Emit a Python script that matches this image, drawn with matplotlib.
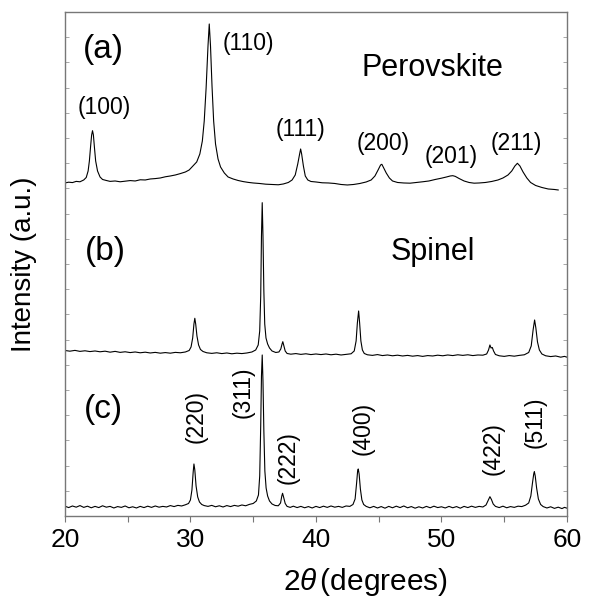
import numpy as np
import matplotlib
matplotlib.use("Agg")
import matplotlib.pyplot as plt

plt.rcParams['font.family'] = ['Liberation Sans', 'DejaVu Sans']
plt.rcParams['mathtext.fontset'] = 'custom'
plt.rcParams['mathtext.rm'] = 'Liberation Sans'
plt.rcParams['mathtext.it'] = 'Liberation Sans:italic'

# Pattern (a) - perovskite, offset trace on top
a_2theta = [20.0, 20.3, 20.6, 20.9, 21.2, 21.5, 21.7, 21.85, 21.95, 22.05, 22.13, 22.2, 22.27, 22.35,
            22.45, 22.6, 22.8, 23.0, 23.3, 23.6, 24.0, 24.4, 24.8, 25.2, 25.6, 26.0, 26.4, 26.8,
            27.2, 27.6, 28.0, 28.4, 28.8, 29.2, 29.6, 29.9, 30.2, 30.5, 30.75, 30.95, 31.1, 31.25,
            31.4, 31.5, 31.6, 31.72, 31.85, 32.0, 32.2, 32.4, 32.7, 33.0, 33.4, 33.8, 34.2, 34.6,
            35.0, 35.5, 36.0, 36.5, 37.0, 37.4, 37.8, 38.1, 38.35, 38.55, 38.7, 38.78, 38.86, 39.0,
            39.15, 39.35, 39.6, 40.0, 40.5, 41.0, 41.5, 42.0, 42.5, 43.0, 43.5, 44.0, 44.4, 44.7,
            44.95, 45.15, 45.25, 45.4, 45.6, 45.85, 46.1, 46.5, 47.0, 47.5, 48.0, 48.5, 49.0, 49.5,
            50.0, 50.4, 50.7, 50.9, 51.1, 51.4, 51.8, 52.2, 52.6, 53.0, 53.5, 54.0, 54.5, 54.9,
            55.3, 55.6, 55.85, 56.05, 56.25, 56.5, 56.8, 57.1, 57.5, 58.0, 58.5, 59.0, 59.3]
a_int = [333.0, 333.8, 333.4, 334.6, 334.2, 336.0, 338.5, 345, 355, 370, 381, 385.3, 381, 369,
         355, 345, 339, 336.5, 335.5, 334.6, 335.0, 334.2, 334.8, 335.4, 335.0, 336.2, 336.0, 337.0,
         337.4, 338.0, 339.2, 340.0, 341.0, 342.4, 344.0, 346, 350, 354, 362, 375, 395, 428,
         470, 492, 470, 430, 395, 372, 357, 349, 343, 339, 337, 335.5, 334.4, 333.6,
         333.0, 332.5, 331.8, 331.5, 331.2, 332, 333.5, 336, 341, 352, 362, 367, 362, 350,
         340, 336, 334.5, 334, 333.2, 333.0, 332.5, 331.5, 331.0, 331.5, 332.5, 334, 336, 340,
         346, 351, 351.7, 348, 343, 338, 335, 333.5, 333, 332.8, 333.5, 334.2, 335, 336.5,
         337.8, 339, 340, 340.3, 339.6, 337.5, 335, 333.5, 332.8, 333, 333.5, 334.5, 336, 338,
         341, 345, 350, 352.7, 350, 344, 338, 333.5, 330.5, 328.5, 327, 326.5, 326]

# Pattern (b) - spinel
b_2theta = [20.0, 20.4, 20.8, 21.2, 21.6, 22.0, 22.4, 22.8, 23.2, 23.6, 24.0, 24.4, 24.8, 25.2,
            25.6, 26.0, 26.4, 26.8, 27.2, 27.6, 28.0, 28.4, 28.8, 29.2, 29.6, 29.9, 30.05, 30.18,
            30.28, 30.35, 30.42, 30.52, 30.65, 30.8, 31.0, 31.3, 31.7, 32.1, 32.5, 32.9, 33.3, 33.7,
            34.1, 34.5, 34.9, 35.2, 35.4, 35.52, 35.6, 35.66, 35.72, 35.78, 35.85, 35.92, 36.02, 36.15,
            36.3, 36.5, 36.8, 37.05, 37.2, 37.3, 37.36, 37.43, 37.55, 37.7, 38.0, 38.4, 38.8, 39.2,
            39.6, 40.0, 40.4, 40.8, 41.2, 41.6, 42.0, 42.4, 42.8, 43.05, 43.2, 43.3, 43.4, 43.48,
            43.58, 43.7, 43.85, 44.1, 44.5, 44.9, 45.3, 45.7, 46.1, 46.5, 46.9, 47.3, 47.7, 48.1,
            48.5, 48.9, 49.3, 49.7, 50.1, 50.5, 50.9, 51.3, 51.7, 52.1, 52.5, 52.9, 53.3, 53.6,
            53.75, 53.86, 53.95, 54.05, 54.15, 54.3, 54.6, 55.0, 55.4, 55.8, 56.2, 56.6, 56.95, 57.15,
            57.3, 57.42, 57.52, 57.65, 57.8, 58.0, 58.3, 58.7, 59.1, 59.5, 59.8, 60.0]
b_int = [165.5, 164.8, 165.6, 164.6, 165.2, 164.4, 165.0, 164.2, 164.8, 163.8, 164.6, 163.6, 164.2, 163.4,
         164.0, 163.2, 163.8, 163.0, 163.6, 162.8, 163.4, 162.8, 163.6, 163.2, 164.0, 165.5, 169, 178,
         192, 197.7, 192, 180, 171, 166.5, 164.5, 163.2, 162.6, 163.2, 162.4, 163.0, 162.2, 162.8,
         162.4, 163.0, 164, 166, 171, 185, 220, 280, 313.3, 280, 225, 192, 178, 172,
         168, 165, 163.5, 164, 167, 172, 174.3, 171, 165, 162.5, 161.8, 162.4, 161.6, 162.2,
         161.4, 162.0, 161.4, 162.0, 161.2, 161.8, 161.0, 161.6, 162.2, 165, 175, 193, 205, 193,
         175, 166, 162.5, 161.2, 160.6, 161.4, 160.4, 161.0, 160.2, 160.8, 160.0, 160.6, 159.8, 160.4,
         159.6, 160.4, 160.0, 160.8, 160.2, 161.0, 160.4, 161.2, 160.6, 161.2, 160.4, 161.0, 160.8, 162,
         166, 171, 168, 168.5, 165, 161.5, 160.2, 159.6, 160.4, 159.8, 160.6, 161.2, 163.5, 170,
         186, 196, 188, 174, 166, 162, 160.2, 159.4, 160.0, 158.8, 159.6, 158.8]

# Pattern (c) - spinel, bottom trace
c_2theta = [20.0, 20.3, 20.6, 20.9, 21.2, 21.5, 21.8, 22.1, 22.4, 22.7, 23.0, 23.3, 23.6, 23.9,
            24.2, 24.5, 24.8, 25.1, 25.4, 25.7, 26.0, 26.3, 26.6, 26.9, 27.2, 27.5, 27.8, 28.1,
            28.4, 28.7, 29.0, 29.3, 29.6, 29.85, 30.0, 30.12, 30.22, 30.28, 30.35, 30.45, 30.58, 30.72,
            30.9, 31.1, 31.4, 31.7, 32.0, 32.3, 32.6, 32.9, 33.2, 33.5, 33.8, 34.1, 34.4, 34.7,
            35.0, 35.25, 35.42, 35.52, 35.6, 35.66, 35.72, 35.78, 35.85, 35.93, 36.03, 36.15, 36.3, 36.5,
            36.75, 37.0, 37.18, 37.28, 37.34, 37.42, 37.55, 37.7, 37.95, 38.2, 38.5, 38.8, 39.1, 39.4,
            39.7, 40.0, 40.3, 40.6, 40.9, 41.2, 41.5, 41.8, 42.1, 42.4, 42.7, 42.95, 43.12, 43.24,
            43.32, 43.37, 43.44, 43.54, 43.66, 43.8, 44.0, 44.3, 44.6, 44.9, 45.2, 45.5, 45.8, 46.1,
            46.4, 46.7, 47.0, 47.3, 47.6, 47.9, 48.2, 48.5, 48.8, 49.1, 49.4, 49.7, 50.0, 50.3,
            50.6, 50.9, 51.2, 51.5, 51.8, 52.1, 52.4, 52.7, 53.0, 53.3, 53.55, 53.72, 53.86, 53.98,
            54.12, 54.3, 54.6, 54.9, 55.2, 55.5, 55.8, 56.1, 56.4, 56.7, 56.95, 57.12, 57.25, 57.35,
            57.4, 57.47, 57.58, 57.72, 57.9, 58.1, 58.4, 58.7, 59.0, 59.3, 59.6, 59.8, 60.0]
c_int = [9.8, 8.4, 10.0, 8.8, 10.4, 8.6, 9.8, 8.2, 9.6, 8.4, 10.2, 8.8, 9.6, 8.0,
         9.4, 8.6, 10.0, 8.2, 9.2, 8.0, 9.6, 8.4, 9.8, 8.6, 10.0, 8.8, 9.6, 9.0,
         10.4, 9.4, 10.6, 10.0, 11.2, 12.5, 16, 26, 44, 52, 46, 30, 19, 14,
         11.5, 10.4, 9.6, 10.6, 9.2, 10.2, 9.0, 10.4, 9.4, 10.6, 9.8, 11.0, 10.2, 11.6,
         12.5, 15, 21, 40, 90, 140, 161, 135, 85, 45, 28, 20, 15, 12,
         10.5, 10.2, 13, 20, 22.7, 19, 12.5, 9.6, 8.6, 9.8, 8.4, 9.6, 8.2, 9.4,
         8.0, 9.6, 8.4, 9.8, 8.6, 10.0, 8.8, 9.6, 8.6, 10.0, 9.6, 11.5, 17, 33,
         45, 47, 42, 27, 16, 11.5, 9.6, 8.2, 9.6, 8.0, 9.4, 7.8, 9.6, 8.2,
         9.8, 8.4, 10.0, 8.2, 9.4, 7.8, 9.2, 8.0, 9.6, 8.2, 9.8, 8.4, 9.2, 8.0,
         9.6, 8.2, 9.4, 7.8, 9.6, 8.4, 9.8, 8.6, 9.6, 9.0, 11, 15.5, 19.3, 16.5,
         12, 9.6, 8.4, 9.8, 8.2, 9.4, 8.6, 9.8, 9.4, 10.8, 13, 20, 33, 42,
         44.3, 40, 28, 17, 11.5, 9.4, 8.0, 9.2, 7.6, 8.8, 7.4, 8.6, 7.8]

# Miller index labels: (text, 2theta, height)
perov_labels = [("(100)", 23.11, 408.7), ("(110)", 34.61, 472.7), ("(111)", 38.73, 386),
                ("(200)", 45.36, 372.7), ("(201)", 50.81, 359.3), ("(211)", 56.0, 372.7)]
spinel_labels = [("(220)", 30.44, 99.3), ("(311)", 34.16, 123.7), ("(222)", 37.75, 58.7),
                 ("(400)", 43.77, 87.7), ("(422)", 54.12, 67), ("(511)", 57.45, 93.7)]

fig = plt.figure(figsize=(5.90, 5.99), dpi=100)
ax = fig.add_axes([0.110, 0.1386, 0.851, 0.8414])

for xs, ys in [(a_2theta, a_int), (b_2theta, b_int), (c_2theta, c_int)]:
    ax.plot(xs, ys, color='black', lw=0.8)

ax.set_xlim(20, 60)
ax.set_ylim(0, 504)

# panel tags and phase names
ax.text(23.05, 466, "(a)", fontsize=24, ha='center', va='center')
ax.text(23.19, 264.3, "(b)", fontsize=24, ha='center', va='center')
ax.text(23.05, 106, "(c)", fontsize=24, ha='center', va='center')
ax.text(49.27, 447.7, "Perovskite", fontsize=22, ha='center', va='center')
ax.text(49.27, 264.3, "Spinel", fontsize=22, ha='center', va='center')

for lab, x, y in perov_labels:
    ax.text(x, y, lab, fontsize=16.5, ha='center', va='center')
for lab, x, y in spinel_labels:
    ax.text(x, y, lab, fontsize=16.5, ha='center', va='center', rotation=90)

ax.set_xticks([20, 30, 40, 50, 60])
ax.set_xticks([25, 35, 45, 55], minor=True)
ax.set_yticks(np.linspace(0, 504, 21))
ax.set_yticklabels([])
ax.tick_params(axis='x', which='both', direction='out', length=4, width=0.8,
               color='#777777', labelsize=19, pad=5)
ax.tick_params(axis='y', which='both', direction='in', length=3, width=0.6,
               color='#999999', left=True, right=True)

for sp in ax.spines.values():
    sp.set_color('#777777')
    sp.set_linewidth(1.0)

ax.set_xlabel(r"$2\theta\,$(degrees)", fontsize=21.5, va='center')
ax.xaxis.set_label_coords(0.598, -0.131)
ax.set_ylabel("Intensity (a.u.)", fontsize=20, va='center')
ax.yaxis.set_label_coords(-0.082, 0.5)

fig.savefig("out.png", dpi=100)
